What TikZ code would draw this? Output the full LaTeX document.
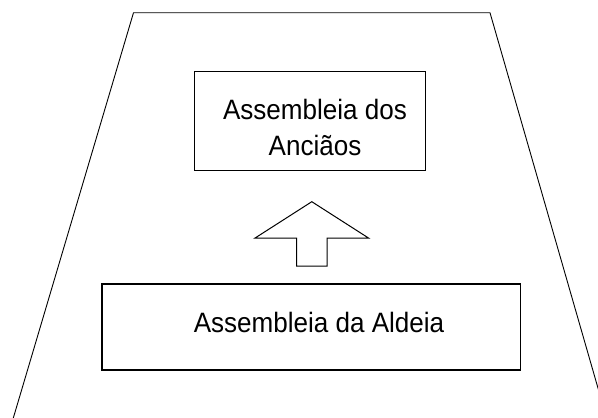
\documentclass[tikz,border=0pt]{standalone}
\usepackage{fontspec}
\setmainfont{Liberation Sans}[FakeStretch=0.93]
\begin{document}
\begin{tikzpicture}[x=1pt, y=-1pt,
    assembleia/.style ={rectangle, draw, line width=1.2pt, inner sep=0pt},
    rotulo/.style ={align=center, inner sep=0pt, font=\fontsize{28}{36}\selectfont}]
   \useasboundingbox (0,0) rectangle (598,418);
   \clip (0,0) rectangle (598,418);
   % trapezio
   \draw[line width=0.9pt] (13.3,418) -- (133.5,12.7) -- (490,12.7) -- (606.6,418);
   \node[assembleia, minimum width=231.4pt, minimum height=98.3pt,
     label={[rotulo, xshift=5pt, yshift=-6pt]center:Assembleia dos\\Anciãos}] (anciaos) at (310,121) {};
   \node[assembleia, minimum width=418.6pt, minimum height=86pt,
     label={[rotulo, xshift=7.7pt, yshift=4.8pt]center:Assembleia da Aldeia}] (aldeia) at (311.3,327) {};
   % seta
   \coordinate (tip) at (311.8,201.7);
   \draw[line width=1pt] (tip) -- ++(-57,36.5) -- ++(41.7,0) -- ++(0,28) -- ++(30.6,0)
     -- ++(0,-28) -- ++(41.7,0) -- cycle;
 \end{tikzpicture}
\end{document}
